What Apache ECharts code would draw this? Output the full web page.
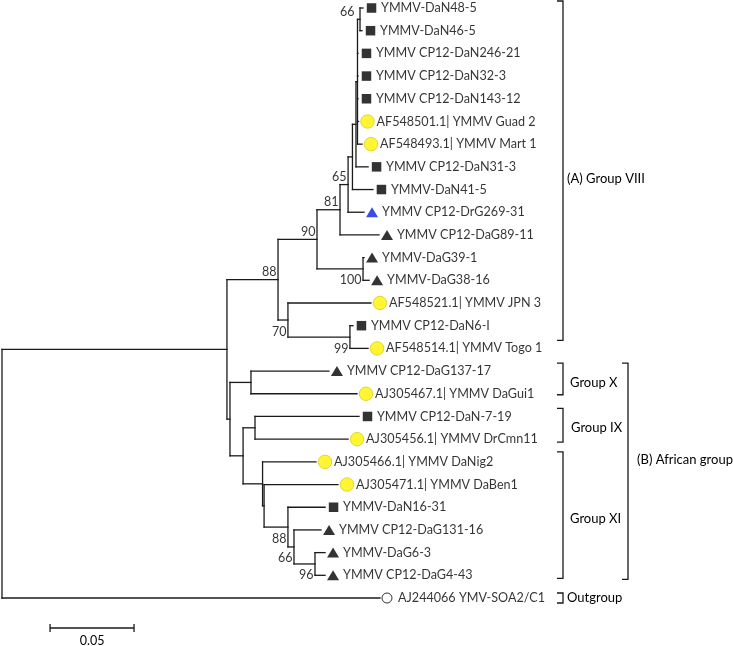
<!DOCTYPE html>
<html>
<head>
<meta charset="utf-8">
<script src="https://cdn.jsdelivr.net/npm/echarts@6/dist/echarts.min.js"></script>
<style>
html,body{margin:0;padding:0;background:#fff;}
#chart{width:733px;height:646px;}
</style>
</head>
<body>
<div id="chart"></div>
<script>
// ---- Data ----
const leafNames = [
  'YMMV-DaN48-5','YMMV-DaN46-5','YMMV CP12-DaN246-21','YMMV CP12-DaN32-3','YMMV CP12-DaN143-12',
  'AF548501.1| YMMV Guad 2','AF548493.1| YMMV Mart 1','YMMV CP12-DaN31-3','YMMV-DaN41-5','YMMV CP12-DrG269-31',
  'YMMV CP12-DaG89-11','YMMV-DaG39-1','YMMV-DaG38-16','AF548521.1| YMMV JPN 3','YMMV CP12-DaN6-I',
  'AF548514.1| YMMV Togo 1','YMMV CP12-DaG137-17','AJ305467.1| YMMV DaGui1','YMMV CP12-DaN-7-19','AJ305456.1| YMMV DrCmn11',
  'AJ305466.1| YMMV DaNig2','AJ305471.1| YMMV DaBen1','YMMV-DaN16-31','YMMV CP12-DaG131-16','YMMV-DaG6-3',
  'YMMV CP12-DaG4-43','AJ244066 YMV-SOA2/C1'
];
const leafMarker = ['sq','sq','sq','sq','sq','ci','ci','sq','sq','trb','tr','tr','tr','ci','sq','ci','tr','ci','sq','ci','ci','ci','sq','tr','tr','tr','oc'];
const leafDepth = [0.2149,0.2143,0.2119,0.2119,0.2119,0.2122,0.2143,0.2179,0.2208,0.2155,0.2244,0.2155,0.2185,0.2196,0.2089,0.2179,0.1946,0.2113,0.2125,0.2060,0.1869,0.2000,0.1923,0.1899,0.1923,0.1923,0.2250];

const nodeIds = ['root','ingroup','a88','a90','a81','a65','p','q','r','n66','a100','a70','a99','afr','gx','n243','g9','g11','n2','b88','b66','b96'];
const nodeDepth = [0,0.1339,0.1643,0.1875,0.2012,0.2060,0.2086,0.2107,0.2116,0.2131,0.2149,0.1702,0.2071,0.1357,0.1482,0.1435,0.1506,0.1551,0.1560,0.1702,0.1738,0.1863];
const nodeChildren = [['ingroup',26],['a88','afr'],['a90','a70'],['a81','a100'],['a65',10],['p',9],['q',8],['r',7],['n66',2,3,4,5,6],[0,1],[11,12],[13,'a99'],[14,15],['gx','n243'],[16,17],['g9','g11'],[18,19],[20,'n2'],[21,'b88'],[22,'b66'],[23,'b96'],[24,25]];
const nodeSupport = ['','','88','90','81','65','','','','66','100','70','99','','','','','','','88','66','96'];

const groupNames = ['(A) Group VIII','Group X','Group IX','Group XI','(B) African group','Outgroup'];
const groupFirst = [0,16,18,20,16,26];
const groupLast = [15,17,19,25,25,26];

const scaleBarValue = 0.05;
const scaleBarLabel = '0.05';

// ---- Layout / style (not data) ----
const FONT = 'Lato';
const LEAF_FS = 12.6;
const NUM_FS = 12.5;
const GROUP_FS = 13;
const supportBelow = {a100:1,a70:1,a99:1,b88:1,b66:1,b96:1};
const supportDx = {n66:-4};
const bracketStyle = {
  '(A) Group VIII': {x:563, top:-7, bot:-8, ldy:8, lx:4},
  'Group X': {x:563, top:-8, bot:1, ldy:4, lx:7},
  'Group IX': {x:563, top:-8, bot:3, ldy:3, lx:8},
  'Group XI': {x:563, top:-10, bot:3, ldy:4, lx:7},
  '(B) African group': {x:628, top:-8, bot:4, ldy:-11, lx:9},
  'Outgroup': {x:563, top:-5, bot:5, ldy:0, lx:4}
};

// compute node y
const idx = {}; nodeIds.forEach((n,i)=>idx[n]=i);
const nodeY = {};
function yOf(c){ return typeof c === 'number' ? c : nodeYcalc(c); }
function xOf(c){ return typeof c === 'number' ? leafDepth[c] : nodeDepth[idx[c]]; }
function nodeYcalc(id){
  if (nodeY[id] !== undefined) return nodeY[id];
  const ch = nodeChildren[idx[id]];
  const y = (yOf(ch[0]) + yOf(ch[ch.length-1]))/2;
  nodeY[id] = y; return y;
}
nodeIds.forEach(nodeYcalc);

// segments
const segs = [];
nodeIds.forEach((id,i)=>{
  const ch = nodeChildren[i];
  const x = nodeDepth[i];
  segs.push([x, yOf(ch[0]), x, yOf(ch[ch.length-1])]);
  ch.forEach(c=>segs.push([x, yOf(c), xOf(c), yOf(c)]));
});

const markerDefs = {
  sq: {symbol:'rect', size:[9.5,9.5], color:'#000', border:null, off:8.5},
  ci: {symbol:'circle', size:13.5, color:'#fff200', border:'#d8cc20', off:9},
  tr: {symbol:'triangle', size:[12,10], color:'#000', border:null, off:8},
  trb: {symbol:'triangle', size:[12,10], color:'#0a1fe0', border:null, off:8},
  oc: {symbol:'circle', size:10, color:'#fff', border:'#000', off:7}
};
const markerSeries = Object.keys(markerDefs).map(k=>{
  const d = markerDefs[k];
  return {
    type:'scatter', silent:true, symbol:d.symbol, symbolSize:d.size, symbolOffset:[d.off,0],
    itemStyle:{color:d.color, borderColor:d.border||d.color, borderWidth:d.border?1:0},
    data: leafMarker.map((m,i)=>m===k?[leafDepth[i], i]:null).filter(v=>v),
    z:5
  };
});

const labelSeries = {
  type:'scatter', silent:true, symbolSize:0, itemStyle:{color:'transparent'},
  data: leafNames.map((n,i)=>({value:[leafDepth[i], i], name:n})),
  label:{show:true, position:'right', distance:18, formatter:p=>p.name, color:'#000', fontFamily:FONT, fontSize:LEAF_FS},
  z:6
};

const supportSeries = {
  type:'scatter', silent:true, symbolSize:0, itemStyle:{color:'transparent'},
  data: nodeIds.map((id,i)=>nodeSupport[i]?{
    value:[nodeDepth[i], nodeY[id]], name:nodeSupport[i],
    label:{offset:[(supportDx[id]||0), supportBelow[id]?11.5:-7.5]}
  }:null).filter(v=>v),
  label:{show:true, position:'left', distance:1.5, formatter:p=>p.name, color:'#000', fontFamily:FONT, fontSize:NUM_FS},
  z:6
};

const treeSeries = {
  type:'custom', silent:true,
  data: segs,
  encode:{x:[0,2], y:[1,3]},
  renderItem:(params, api)=>{
    const a = api.coord([api.value(0), api.value(1)]);
    const b = api.coord([api.value(2), api.value(3)]);
    return {type:'line', shape:{x1:a[0],y1:a[1],x2:b[0],y2:b[1]}, style:{stroke:'#1a1a1a', lineWidth:1.3, lineCap:'square'}};
  },
  z:3
};

const bracketSeries = {
  type:'custom', silent:true,
  data: groupNames.map((g,i)=>[groupFirst[i], groupLast[i], i]),
  encode:{y:[0,1]},
  renderItem:(params, api)=>{
    const i = api.value(2);
    const st = bracketStyle[groupNames[i]];
    const y1 = api.coord([0, api.value(0)])[1] + st.top;
    const y2 = api.coord([0, api.value(1)])[1] + st.bot;
    const x = st.x;
    return {type:'group', children:[
      {type:'polyline', shape:{points:[[x-6,y1],[x,y1],[x,y2],[x-6,y2]]}, style:{stroke:'#1a1a1a', lineWidth:1.3, fill:null}},
      {type:'text', style:{x:x+st.lx, y:(y1+y2)/2+st.ldy, text:groupNames[i], fill:'#000', font:GROUP_FS+'px '+FONT, textAlign:'left', textVerticalAlign:'middle'}}
    ]};
  },
  z:4
};

const scaleSeries = {
  type:'custom', silent:true,
  data: [[0.0286, scaleBarValue]],
  renderItem:(params, api)=>{
    const x0 = api.value(0), len = api.value(1);
    const a = api.coord([x0, 0])[0];
    const b = api.coord([x0+len, 0])[0];
    const y = 628;
    return {type:'group', children:[
      {type:'line', shape:{x1:a,y1:y,x2:b,y2:y}, style:{stroke:'#1a1a1a', lineWidth:1.3}},
      {type:'line', shape:{x1:a,y1:y-4,x2:a,y2:y+4}, style:{stroke:'#1a1a1a', lineWidth:1.3}},
      {type:'line', shape:{x1:b,y1:y-4,x2:b,y2:y+4}, style:{stroke:'#1a1a1a', lineWidth:1.3}},
      {type:'text', style:{x:(a+b)/2, y:y+13, text:scaleBarLabel, fill:'#000', font:NUM_FS+'px '+FONT, textAlign:'center', textVerticalAlign:'middle'}}
    ]};
  },
  z:4
};

const chart = echarts.init(document.getElementById('chart'), null, {renderer:'canvas'});
chart.setOption({
  animation:false,
  backgroundColor:'#fff',
  grid:{left:2, top:8, width:672, height:28*22.6923},
  xAxis:{type:'value', min:0, max:0.4, show:false},
  yAxis:{type:'value', min:0, max:28, inverse:true, show:false},
  series:[treeSeries, ...markerSeries, labelSeries, supportSeries, bracketSeries, scaleSeries]
});
</script>
</body>
</html>
